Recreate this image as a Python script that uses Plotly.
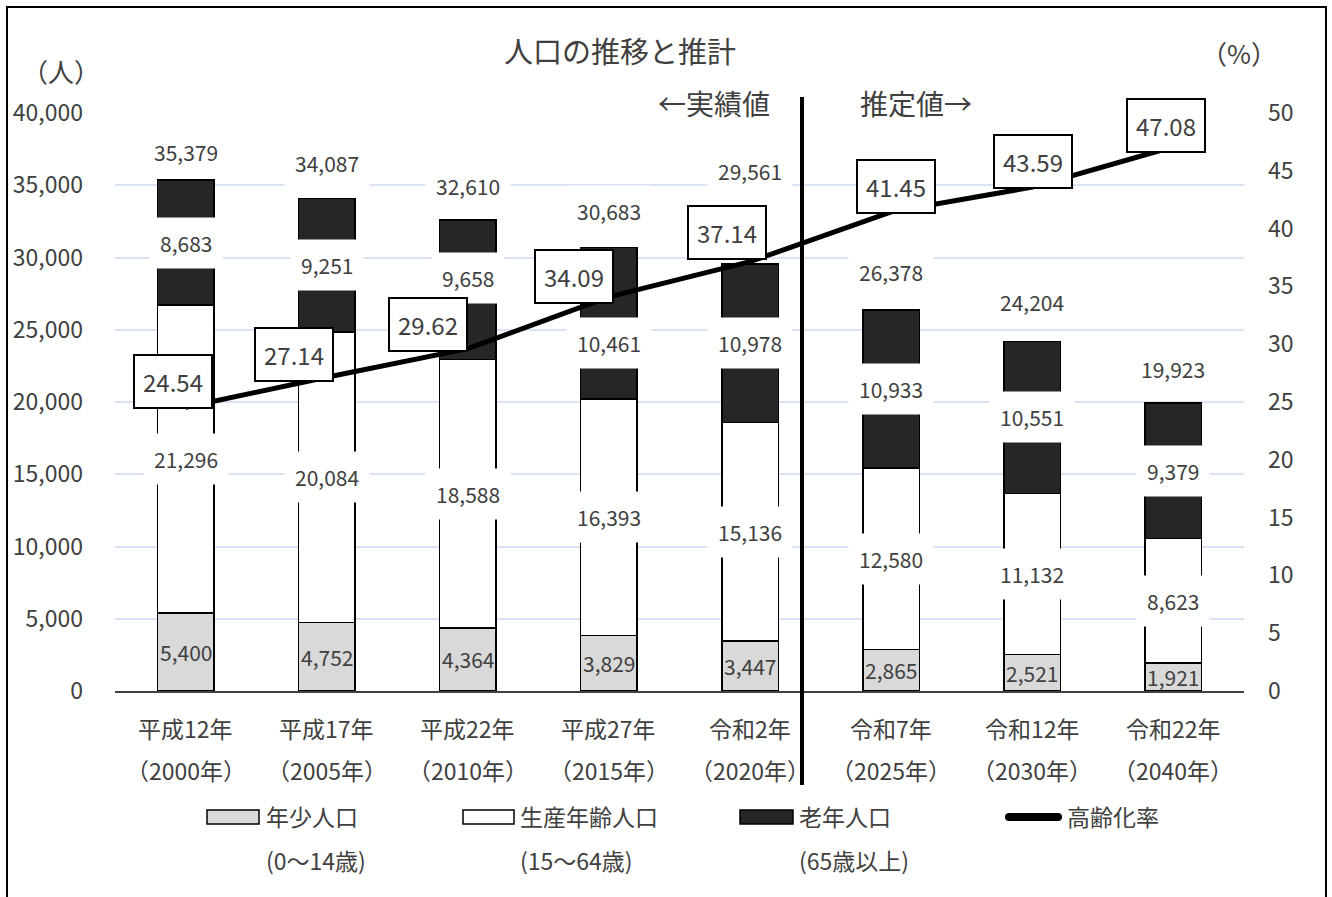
import plotly.graph_objects as go

# ---- data -------------------------------------------------------------
era_labels = ["平成12年", "平成17年", "平成22年", "平成27年",
              "令和2年", "令和7年", "令和12年", "令和22年"]
year_labels = ["（2000年）", "（2005年）", "（2010年）", "（2015年）",
               "（2020年）", "（2025年）", "（2030年）", "（2040年）"]
young_pop = [5400, 4752, 4364, 3829, 3447, 2865, 2521, 1921]          # 0〜14歳
working_pop = [21296, 20084, 18588, 16393, 15136, 12580, 11132, 8623]  # 15〜64歳
elderly_pop = [8683, 9251, 9658, 10461, 10978, 10933, 10551, 9379]     # 65歳以上
total_pop = [35379, 34087, 32610, 30683, 29561, 26378, 24204, 19923]
aging_rate = [24.54, 27.14, 29.62, 34.09, 37.14, 41.45, 43.59, 47.08]  # 高齢化率 (%)

# ---- layout constants ------------------------------------------------
W, H = 1332, 897
PL, PR, PT, PB = 115, 88, 113, 206          # plot-area margins (px)
PW, PH = W - PL - PR, H - PT - PB
FONT = "Noto Sans CJK JP"
TXT = "#404040"

# label nudges (px) so the boxes do not collide
total_lift = [28, 35, 34, 37, 93, 38, 39, 34]
elderly_nudge = [0, 0, 12, -20, 0, 0, 0, 0]
rate_shift = [(-13, 26), (-33, 23), (-40, 24), (-35, 20),
              (-23, 29), (5, 25), (1, 26), (-7, 21)]


def px(x):
    return (x - PL) / PW


def py(y):
    return (PT + PH - y) / PH


def paper_text(x, y, text, size, xanchor="center"):
    return dict(x=px(x), y=py(y), xref="paper", yref="paper",
                xanchor=xanchor, yanchor="middle", text=text,
                showarrow=False, font=dict(size=size, color=TXT))


fig = go.Figure()

fig.add_bar(x=era_labels, y=young_pop, name="年少人口",
            marker=dict(color="#d9d9d9", line=dict(color="black", width=1.5)))
fig.add_bar(x=era_labels, y=working_pop, name="生産年齢人口",
            marker=dict(color="white", line=dict(color="black", width=1.5)))
fig.add_bar(x=era_labels, y=elderly_pop, name="老年人口",
            marker=dict(color="#262626", line=dict(color="black", width=1.5)))
fig.add_scatter(x=era_labels, y=aging_rate, name="高齢化率", yaxis="y2",
                mode="lines", line=dict(color="black", width=5))

ann = []

# value labels on the bars
for i, cat in enumerate(era_labels):
    y0 = young_pop[i]
    y1 = y0 + working_pop[i]
    y2 = y1 + elderly_pop[i]
    ann.append(dict(x=cat, y=y0 / 2, xref="x", yref="y",
                    text=f"{young_pop[i]:,}", showarrow=False,
                    font=dict(size=21, color=TXT)))
    ann.append(dict(x=cat, y=(y0 + y1) / 2, xref="x", yref="y",
                    text=f"{working_pop[i]:,}", showarrow=False,
                    bgcolor="white", borderpad=10,
                    font=dict(size=21, color=TXT)))
    ann.append(dict(x=cat, y=(y1 + y2) / 2, xref="x", yref="y",
                    yshift=elderly_nudge[i],
                    text=f"{elderly_pop[i]:,}", showarrow=False,
                    bgcolor="white", borderpad=10,
                    font=dict(size=21, color=TXT)))
    ann.append(dict(x=cat, y=total_pop[i], xref="x", yref="y",
                    yshift=total_lift[i],
                    text=f"{total_pop[i]:,}", showarrow=False,
                    bgcolor="white", borderpad=10,
                    font=dict(size=21, color=TXT)))

# boxed labels on the aging-rate line
for i, cat in enumerate(era_labels):
    dx, dy = rate_shift[i]
    ann.append(dict(x=cat, y=aging_rate[i], xref="x", yref="y2",
                    xshift=dx, yshift=dy,
                    text=f"{aging_rate[i]:.2f}", showarrow=False,
                    bgcolor="white", bordercolor="black", borderwidth=2,
                    borderpad=8, font=dict(size=24, color=TXT)))

# two-line category labels
for i, cat in enumerate(era_labels):
    ann.append(dict(x=cat, y=0, xref="x", yref="paper", yshift=-37,
                    yanchor="middle", text=cat, showarrow=False,
                    font=dict(size=23, color=TXT)))
    ann.append(dict(x=cat, y=0, xref="x", yref="paper", yshift=-79,
                    yanchor="middle", text=year_labels[i], showarrow=False,
                    font=dict(size=23, color=TXT)))

# titles and unit captions
ann += [
    paper_text(620, 50, "人口の推移と推計", 29),
    paper_text(61, 70, "（人）", 26),
    paper_text(1239, 52, "（%）", 26),
    paper_text(714, 103, "←実績値", 28),
    paper_text(916, 103, "推定値→", 28),
]

# legend text
legend_items = [
    (264, "年少人口", "(0〜14歳)"),
    (518, "生産年齢人口", "(15〜64歳)"),
    (797, "老年人口", "(65歳以上)"),
    (1065, "高齢化率", None),
]
for x0, line1, line2 in legend_items:
    ann.append(paper_text(x0, 816, line1, 23, xanchor="left"))
    if line2:
        ann.append(paper_text(x0, 860, line2, 23, xanchor="left"))

shapes = [
    # outer frame
    dict(type="rect", xref="paper", yref="paper",
         x0=px(7), x1=px(1326), y0=py(910), y1=py(7),
         line=dict(color="black", width=2), fillcolor="rgba(0,0,0,0)"),
    # actual / projected divider
    dict(type="line", xref="paper", yref="paper",
         x0=px(802), x1=px(802), y0=py(785), y1=py(97),
         line=dict(color="black", width=4)),
    # legend swatches
    dict(type="rect", xref="paper", yref="paper",
         x0=px(207), x1=px(259), y0=py(824), y1=py(810),
         line=dict(color="black", width=1.5), fillcolor="#d9d9d9"),
    dict(type="rect", xref="paper", yref="paper",
         x0=px(463), x1=px(514), y0=py(824), y1=py(810),
         line=dict(color="black", width=1.5), fillcolor="white"),
    dict(type="rect", xref="paper", yref="paper",
         x0=px(740), x1=px(793), y0=py(824), y1=py(810),
         line=dict(color="black", width=1.5), fillcolor="#262626"),
    dict(type="line", xref="paper", yref="paper",
         x0=px(1009), x1=px(1058), y0=py(817), y1=py(817),
         line=dict(color="black", width=8)),
    dict(type="circle", xref="paper", yref="paper",
         x0=px(1005), x1=px(1013), y0=py(821), y1=py(813),
         line=dict(width=0), fillcolor="black"),
    dict(type="circle", xref="paper", yref="paper",
         x0=px(1054), x1=px(1062), y0=py(821), y1=py(813),
         line=dict(width=0), fillcolor="black"),
]

fig.update_layout(
    width=W, height=H,
    margin=dict(l=PL, r=PR, t=PT, b=PB, autoexpand=False),
    paper_bgcolor="white", plot_bgcolor="white",
    font=dict(family=FONT, color=TXT),
    barmode="stack", bargap=0.6,
    showlegend=False,
    xaxis=dict(showticklabels=False, ticks="", showgrid=False,
               showline=True, linecolor="#404040", linewidth=2,
               range=[-0.5, len(era_labels) - 0.5]),
    yaxis=dict(range=[0, 40000], dtick=5000, tickformat=",d",
               showgrid=True, gridcolor="#dae3f3", gridwidth=2,
               zeroline=False, ticks="", ticklabelstandoff=31,
               tickfont=dict(size=23, color=TXT)),
    yaxis2=dict(range=[0, 50], dtick=5, overlaying="y", side="right",
                showgrid=False, zeroline=False, ticks="",
                ticklabelstandoff=23,
                tickfont=dict(size=23, color=TXT)),
    annotations=ann,
    shapes=shapes,
)

fig.write_html("out.html")
